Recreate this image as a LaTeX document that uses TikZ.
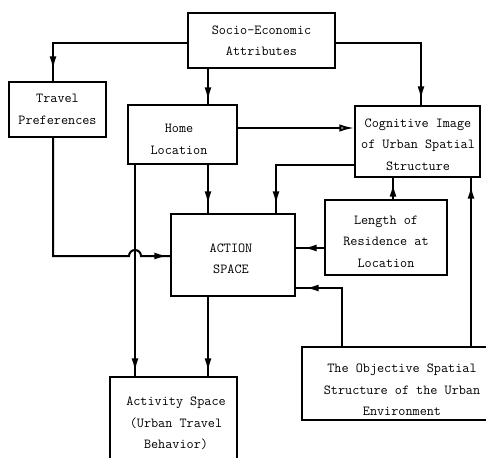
\documentclass[tikz,border=0pt]{standalone}
\usetikzlibrary{arrows.meta,calc,decorations.markings}
\begin{document}
\begin{tikzpicture}[x=1pt,y=-1pt,
 box/.style={draw,line width=1.4pt,inner sep=0pt},
 txt/.style={inner sep=0pt,align=center,font=\fontsize{13.8}{21.5}\selectfont\ttfamily},
 link/.style={line width=2pt},
 tipat/.style={link,postaction={decorate,decoration={markings,mark=at position #1 with {\arrow{Latex[length=13pt,width=7pt]}}}}},
 oarr/.style={link,-{Latex[open,length=15pt,width=7.5pt]}}]
\useasboundingbox (0,0) rectangle (486,457);
\clip (0,0) rectangle (486,457);
\node[box,minimum width=147pt,minimum height=55pt] (socio) at (261.5,40.5) {};
\node[txt] (sociot) at (261.5,40.5) {Socio-Economic\\Attributes};
\node[box,minimum width=97pt,minimum height=55pt] (trav) at (57.5,109.5) {};
\node[txt] (travt) at (57.5,109.5) {Travel\\Preferences};
\node[box,minimum width=109pt,minimum height=59pt] (home) at (182.5,134.5) {};
\node[txt] (homet) at (179,139.5) {Home\\Location};
\node[box,minimum width=125pt,minimum height=71pt] (cog) at (417.5,141.5) {};
\node[txt] (cogt) at (418,144.5) {Cognitive Image\\of Urban Spatial\\Structure};
\node[box,minimum width=122pt,minimum height=75pt] (len) at (386,237.5) {};
\node[txt] (lent) at (386,241.5) {Length of\\Residence at\\Location};
\node[box,minimum width=124pt,minimum height=82pt] (act) at (233,255) {};
\node[txt] (actt) at (231,259) {ACTION\\SPACE};
\node[box,minimum width=127pt,minimum height=90pt] (acty) at (173.5,422) {};
\node[txt] (actyt) at (176,423.5) {Activity Space\\(Urban Travel\\Behavior)};
\node[box,minimum width=190pt,minimum height=73pt] (obj) at (397,383.5) {};
\node[txt] (objt) at (402,390) {The Objective Spatial\\Structure of the Urban\\Environment};
% guide coordinates
\coordinate (xT) at (53,0);
\coordinate (xH) at (208,0);
\coordinate (xC) at (421,0);
\coordinate (xCA) at (276,0);
\coordinate (xL) at (393,0);
\coordinate (xO) at (471,0);
\coordinate (xOA) at (342,0);
\coordinate (xHA) at (135,0);
\coordinate (yS) at (0,43);
\coordinate (yHC) at (0,128);
\coordinate (yCA) at (0,165);
\coordinate (yTA) at (0,256);
\coordinate (yLA) at (0,248);
\coordinate (yOA) at (0,288);
% connectors
\draw[tipat=-12pt] (socio.west |- yS) -| (xT |- trav.north);
\draw[tipat=-4pt] (xH |- socio.south) -- (xH |- home.north);
\draw[tipat=-6pt] (socio.east |- yS) -| (xC |- cog.north);
\draw[oarr] (home.east |- yHC) -- (cog.west |- yHC);
\draw[tipat=-9pt] (cog.west |- yCA) -| (xCA |- act.north);
\draw[tipat=-9pt] (xH |- home.south) -- (xH |- act.north);
\draw[tipat=-6pt] (xL |- len.north) -- (xL |- cog.south);
\draw[tipat=-8pt] (xO |- obj.north) -- (xO |- cog.south);
\draw[tipat=-8pt] (len.west |- yLA) -- (act.east |- yLA);
\draw[tipat=-10pt] (xOA |- obj.north) |- (act.east |- yOA);
\draw[tipat=-3pt] (xT |- trav.south) -- (xT |- yTA) -- ($(xHA |- yTA)+(-6,0)$) arc[start angle=180,end angle=360,radius=6] -- (act.west |- yTA);
\draw[tipat=-5pt] (xHA |- home.south) -- (xHA |- acty.north);
\draw[tipat=-5pt] (xH |- act.south) -- (xH |- acty.north);
\end{tikzpicture}
\end{document}
